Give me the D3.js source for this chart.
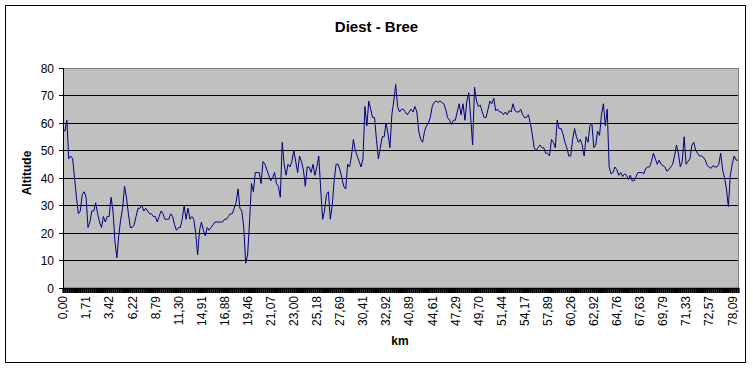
<!DOCTYPE html>
<html>
<head>
<meta charset="utf-8">
<script src="https://cdnjs.cloudflare.com/ajax/libs/d3/7.8.5/d3.min.js"></script>
<style>
  body { margin: 0; background: #fff; }
  text { font-family: Arial, "Liberation Sans", sans-serif; fill: #000; }
</style>
</head>
<body>
<svg id="chart" width="753" height="368"></svg>
<script>
// km labels shown on the category axis (one every 12 points)
const tickLabels = ['0,00', '1,71', '3,42', '6,22', '8,79', '11,30', '14,91', '16,88', '19,46', '21,07',
  '23,00', '25,18', '27,69', '30,41', '32,92', '40,89', '44,61', '47,29', '49,70', '51,44',
  '54,17', '57,89', '60,26', '62,92', '64,76', '67,63', '69,79', '71,33', '72,57', '78,09'];
const labelEvery = 12;

// altitude in metres
const altitude = [
  58, 57, 61, 47, 48, 47, 40, 33, 27, 28,
  34, 35, 33, 22, 24, 28, 28, 31, 27, 24,
  22, 26, 24, 26, 26, 33, 28, 17, 11, 19,
  25, 29, 37, 33, 27, 22, 22, 23, 26, 29,
  29, 30, 28, 29, 28, 27, 27, 26, 26, 24,
  26, 28, 27, 25, 25, 25, 27, 26, 23, 21,
  22, 22, 25, 30, 25, 29, 25, 26, 25, 20,
  12, 21, 24, 21, 19, 22, 21, 22, 23, 24,
  24, 24, 24, 24, 25, 25, 26, 27, 27, 29,
  31, 36, 29, 28, 22, 9, 12, 24, 38, 35,
  42, 42, 42, 38, 46, 45, 43, 41, 39, 40,
  42, 38, 37, 33, 53, 45, 41, 45, 44, 46,
  50, 46, 42, 48, 46, 43, 37, 44, 44, 42,
  45, 41, 44, 48, 36, 25, 28, 34, 35, 25,
  30, 39, 45, 45, 43, 40, 37, 36, 45, 44,
  48, 54, 50, 48, 46, 44, 47, 66, 59, 68,
  65, 62, 62, 54, 47, 51, 55, 55, 60, 56,
  51, 63, 68, 74, 66, 64, 65, 65, 64, 63,
  64, 65, 64, 66, 64, 57, 54, 53, 57, 59,
  60, 62, 66, 67.5, 68, 67.5, 68, 67.5, 67, 65,
  62, 61, 59.5, 61, 61, 64, 67, 63, 67, 61,
  68, 71, 62, 52, 73, 68, 66, 66.5, 64, 62,
  62, 65, 68, 67, 69, 64.5, 65, 64, 64, 63,
  64, 63, 64.5, 64, 67, 64.5, 64, 64, 65, 63,
  62, 62, 63, 60, 56, 51, 50, 51, 52, 51,
  51, 49, 49, 48, 54, 53, 51, 61, 58, 58,
  56, 53, 51, 48, 48, 54, 58, 55, 53, 54,
  52, 48, 55, 53, 59, 60, 51, 52, 57, 55.5,
  63, 67, 59, 65, 44, 41.5, 42, 44, 43, 41,
  42, 40.5, 41.5, 41, 39.5, 41, 39, 39, 40.5, 42,
  42, 42, 41.5, 43.5, 44, 44, 46, 49, 47, 45,
  46.5, 45, 44.5, 44, 42.5, 43, 44, 45, 48, 52,
  49, 44, 46, 55, 45, 46, 47, 52, 53, 50,
  49, 48, 48, 47.5, 46.5, 44.5, 44, 43.5, 44.5, 44,
  44, 45, 49, 43, 40, 36, 29.5, 41, 45, 48,
  46.5, 46.5
];

const yTicks = [0, 10, 20, 30, 40, 50, 60, 70, 80];

const plotLeft = 63, plotRight = 738, plotTop = 68, plotBottom = 288;
const svg = d3.select('#chart');

// chart frame
svg.append('rect')
  .attr('x', 5.5).attr('y', 5.5)
  .attr('width', 740).attr('height', 357)
  .attr('fill', '#fff').attr('stroke', '#000');

const x = d3.scalePoint()
  .domain(d3.range(altitude.length))
  .range([plotLeft, plotRight]);
const y = d3.scaleLinear().domain([0, 80]).range([plotBottom, plotTop]);
const crisp = (v) => Math.floor(v) + 0.5;

// plot area
svg.append('rect')
  .attr('x', plotLeft + 0.5).attr('y', plotTop + 0.5)
  .attr('width', plotRight - plotLeft).attr('height', plotBottom - plotTop)
  .attr('fill', '#c0c0c0').attr('stroke', '#808080');

// gridlines
svg.append('g')
  .selectAll('line')
  .data(yTicks.filter((d) => d > 0 && d < 80))
  .enter()
  .append('line')
  .attr('x1', plotLeft).attr('x2', plotRight)
  .attr('y1', (d) => crisp(y(d))).attr('y2', (d) => crisp(y(d)))
  .attr('stroke', '#000');

// profile
svg.append('path')
  .datum(altitude)
  .attr('fill', 'none')
  .attr('stroke', '#000080')
  .attr('stroke-width', 1)
  .attr('d', d3.line().x((_, i) => x(i)).y((d) => y(d)));

// y axis
const yAxis = svg.append('g');
yAxis.append('line')
  .attr('x1', crisp(plotLeft)).attr('x2', crisp(plotLeft))
  .attr('y1', plotTop).attr('y2', plotBottom + 1)
  .attr('stroke', '#000');
const yt = yAxis.selectAll('g.tick')
  .data(yTicks)
  .enter()
  .append('g')
  .classed('tick', true)
  .attr('transform', (d) => `translate(0,${crisp(y(d))})`);
yt.append('line')
  .attr('x1', plotLeft - 4).attr('x2', plotLeft)
  .attr('stroke', '#000');
yt.append('text')
  .attr('x', 54)
  .attr('dy', '0.36em')
  .attr('text-anchor', 'end')
  .style('font-size', '12px')
  .text((d) => d);

// x axis: dense category ticks form the black band
svg.append('g')
  .attr('transform', `translate(0,${plotBottom})`)
  .call(d3.axisBottom(x).tickSize(5).tickFormat(''))
  .call((g) => {
    g.select('.domain').attr('stroke', '#000').attr('stroke-width', 1.5);
    g.selectAll('.tick line').attr('stroke', '#000').attr('stroke-width', 2);
  });

svg.append('g')
  .selectAll('g.lab')
  .data(tickLabels)
  .enter()
  .append('g')
  .classed('lab', true)
  .attr('transform', (_, i) => `translate(${x(i * labelEvery)},296) rotate(-90)`)
  .append('text')
  .attr('text-anchor', 'end')
  .attr('dy', '0.36em')
  .style('font-size', '12px')
  .text((d) => d);

// titles
svg.append('text')
  .attr('x', 376.5).attr('y', 32)
  .attr('text-anchor', 'middle')
  .style('font-size', '15px').style('font-weight', 'bold')
  .text('Diest - Bree');

svg.append('text')
  .attr('transform', 'translate(31,173) rotate(-90)')
  .attr('text-anchor', 'middle')
  .style('font-size', '12px').style('font-weight', 'bold')
  .text('Altitude');

svg.append('text')
  .attr('x', 400).attr('y', 345)
  .attr('text-anchor', 'middle')
  .style('font-size', '12px').style('font-weight', 'bold')
  .text('km');
</script>
</body>
</html>
